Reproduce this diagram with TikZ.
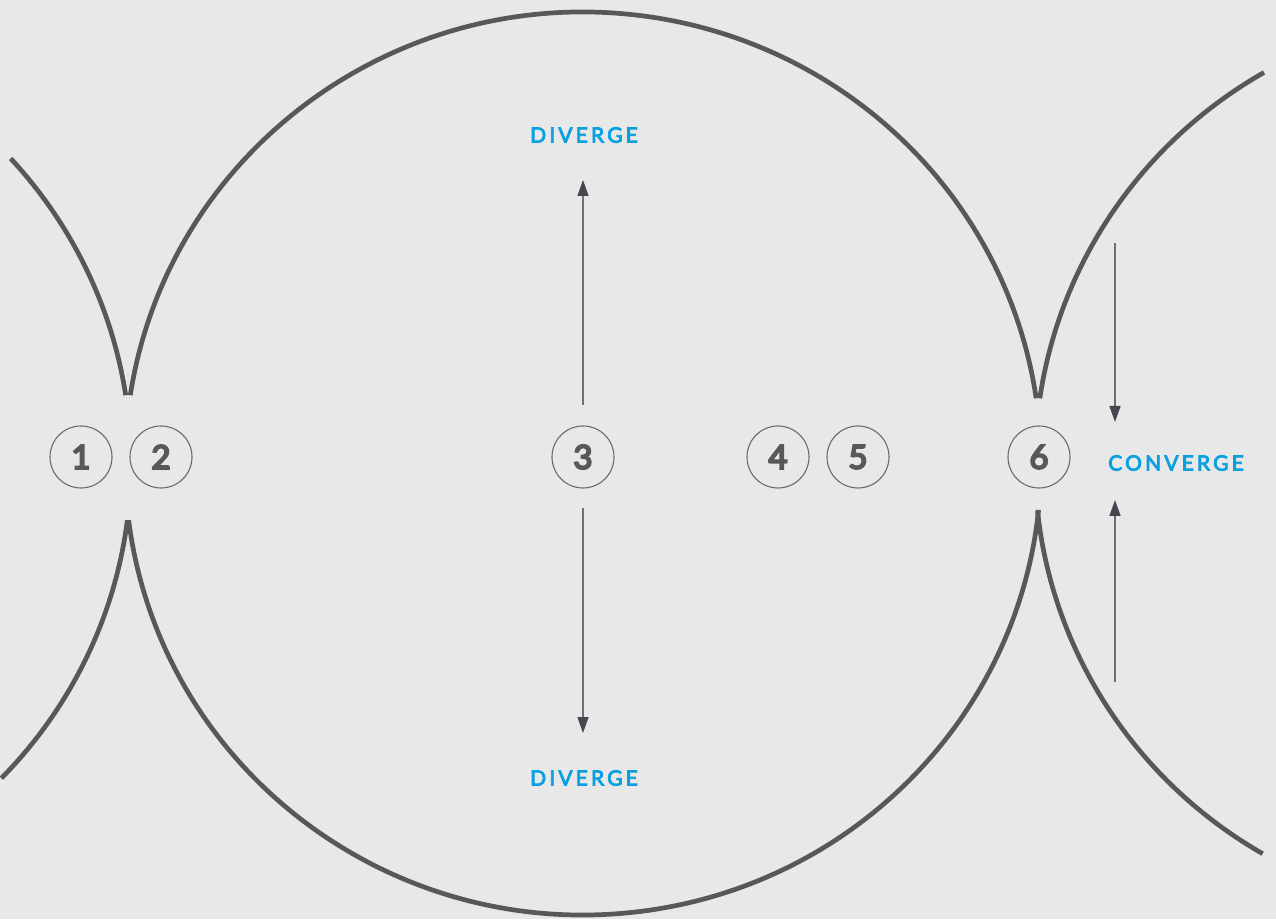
\documentclass[tikz,border=0pt]{standalone}
\usepackage{fontspec}
\setmainfont{Lato}
\newfontfamily\labfont{Lato}[LetterSpace=15,FakeBold=4]
\newfontfamily\numfont{Lato}[FakeBold=6]
\usetikzlibrary{arrows.meta}
\definecolor{bgc}{HTML}{E8E8E8}
\definecolor{arcgray}{HTML}{58585B}
\definecolor{ringgray}{HTML}{6A6A6F}
\definecolor{numgray}{HTML}{58585A}
\definecolor{labblue}{HTML}{0AA0E0}
\definecolor{headgray}{HTML}{45474F}
\definecolor{shaftgray}{HTML}{6E6E74}
\begin{document}
\begin{tikzpicture}[x=1pt,y=1pt,
  arcline/.style={draw=arcgray,line width=4.7pt},
  ring/.style={circle,draw=ringgray,line width=1.1pt,minimum size=62pt,inner sep=0pt,
    text=numgray,font=\numfont\fontsize{33}{33}\selectfont},
  lab/.style={text=labblue,font=\labfont\fontsize{21}{21}\selectfont},
  thinarrow/.style={draw=shaftgray,line width=1.4pt,-{Triangle[length=16pt,width=11pt,fill=headgray,color=headgray]}}]
\fill[bgc] (0,0) rectangle (1276,919);
\useasboundingbox (0,0) rectangle (1276,919);
% central ellipse
\draw[arcline,shift={(583,455.5)}] (171.3:458 and 451.5) arc[start angle=171.3,end angle=8.3,x radius=458,y radius=451.5];
\draw[arcline,shift={(583,455.5)}] (187.2:458 and 451.5) arc[start angle=187.2,end angle=354.1,x radius=458,y radius=451.5];
% left ellipse
\draw[arcline,shift={(-327,455.5)}] (42.5:458 and 451.5) arc[start angle=42.5,end angle=8.7,x radius=458,y radius=451.5];
\draw[arcline,shift={(-327,455.5)}] (-7.2:458 and 451.5) arc[start angle=-7.2,end angle=-44.2,x radius=458,y radius=451.5];
% right ellipse
\draw[arcline,shift={(1493,455.5)}] (171.7:458 and 451.5) arc[start angle=171.7,end angle=120,x radius=458,y radius=451.5];
\draw[arcline,shift={(1493,455.5)}] (186:458 and 451.5) arc[start angle=186,end angle=239.8,x radius=458,y radius=451.5];
% numbered rings
\node[ring] (n1) at (81,462) {1};
\node[ring] (n2) at (161,462) {2};
\node[ring] (n3) at (583,462) {3};
\node[ring] (n4) at (778,462) {4};
\node[ring] (n5) at (858,462) {5};
\node[ring] (n6) at (1039,462) {6};
% labels
\node[lab] (dtop) at (584,784) {DIVERGE};
\node[lab] (dbot) at (584,141) {DIVERGE};
\node[lab] (conv) at (1176,456) {CONVERGE};
% arrows
\coordinate (uS) at (583,514); \coordinate (uE) at (583,739);
\coordinate (dS) at (583,411); \coordinate (dE) at (583,186);
\coordinate (rS) at (1115,676); \coordinate (rE) at (1115,497);
\coordinate (qS) at (1115,237); \coordinate (qE) at (1115,419);
\draw[thinarrow] (uS) -- (uE);
\draw[thinarrow] (dS) -- (dE);
\draw[thinarrow] (rS) -- (rE);
\draw[thinarrow] (qS) -- (qE);
\end{tikzpicture}
\end{document}
